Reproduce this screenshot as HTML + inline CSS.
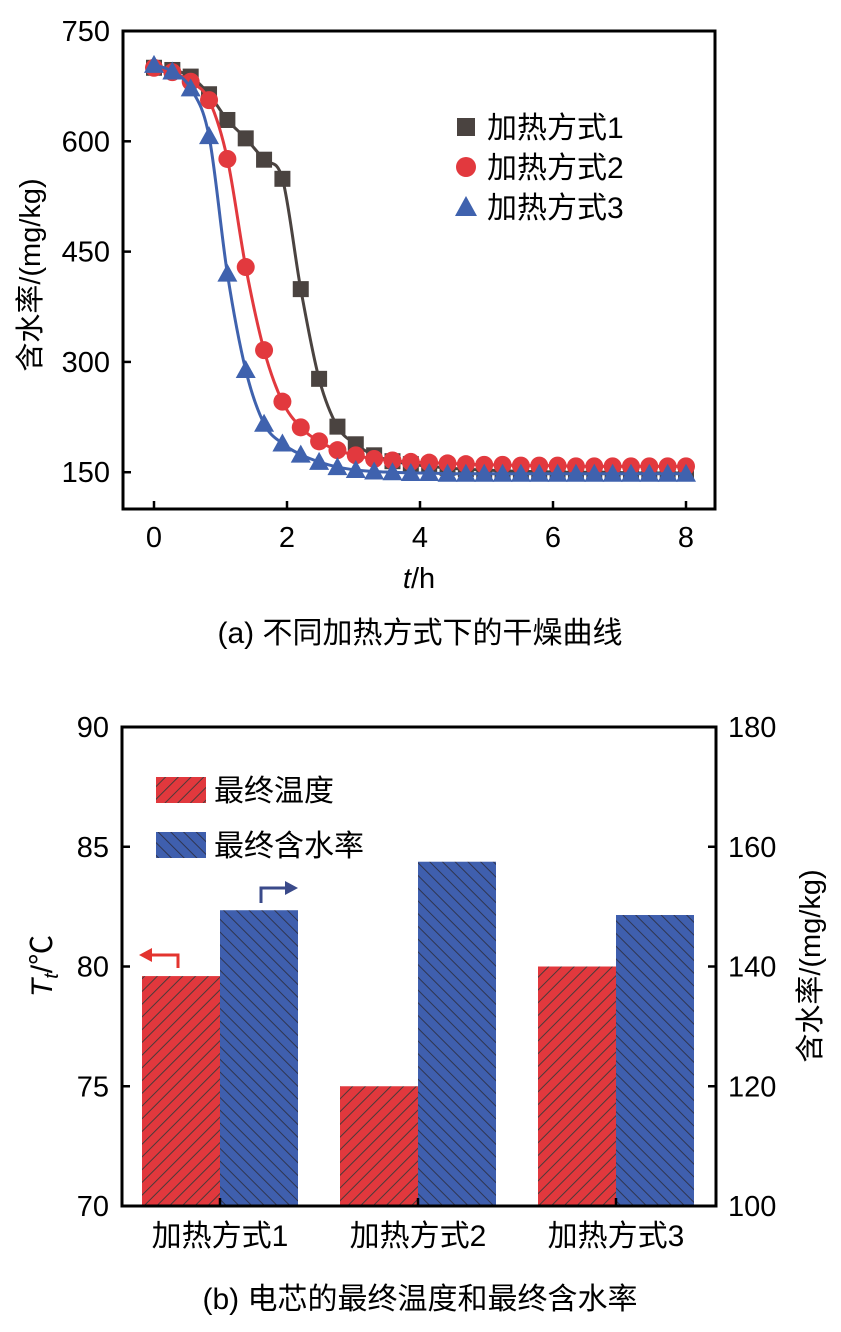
<!DOCTYPE html>
<html><head><meta charset="utf-8">
<style>
html,body{margin:0;padding:0;background:#fff;}
svg{display:block;font-family:"Liberation Sans","Noto Sans CJK SC",sans-serif;}
</style></head>
<body>
<svg id="fig" width="841" height="1332" viewBox="0 0 841 1332" xmlns="http://www.w3.org/2000/svg">
<defs>
<pattern id="hatchR" patternUnits="userSpaceOnUse" width="9" height="9" patternTransform="rotate(45)">
<rect width="9" height="9" fill="#e1383d"/><line x1="0" y1="0" x2="0" y2="9" stroke="#4a3a3a" stroke-width="2"/>
</pattern>
<pattern id="hatchB" patternUnits="userSpaceOnUse" width="9" height="9" patternTransform="rotate(-45)">
<rect width="9" height="9" fill="#3f5fae"/><line x1="0" y1="0" x2="0" y2="9" stroke="#2f3550" stroke-width="2"/>
</pattern>
</defs>
<g id="top"></g>
<g id="bot"></g>
</svg>
<script>
// ---- Chart (a) data ----
const tStep = 8/29;
const series1 = [700,697,688,664,629,604,575,549,399,277,212,188,173,165,161,158,156,154,153,152,151,151,150,150,150,150,149,149,149,149];
const series2 = [700,694,681,656,576,429,316,246,211,192,180,173,168,166,164,163,162,161,160,160,159,159,159,158,158,158,158,158,158,158];
const series3 = [704,695,672,607,420,289,216,189,174,164,157,153,151,150,149,149,148,148,148,148,148,148,148,148,148,148,148,148,148,148];
const yTicksA = [150,300,450,600,750];
const xTicksA = [0,2,4,6,8];
const legendA = ["加热方式1","加热方式2","加热方式3"];
// ---- Chart (b) data ----
const categories = ["加热方式1","加热方式2","加热方式3"];
const finalTemp = [79.6,75.0,80.0];
const finalMoisture = [149.4,157.5,148.6];
const yTicksL = [70,75,80,85,90];
const yTicksR = [100,120,140,160,180];

const NS="http://www.w3.org/2000/svg";
function mk(parent,tag,attrs,text){const e=document.createElementNS(NS,tag);for(const k in attrs)e.setAttribute(k,attrs[k]);if(text!==undefined)e.textContent=text;parent.appendChild(e);return e;}

// ===== Chart (a) =====
const A=document.getElementById('top');
const ax={l:123,r:715,t:31,b:509,y0:100,y1:750};
function xa(v){return 154+v*66.5;}
function ya(v){return ax.b-(v-ax.y0)*(ax.b-ax.t)/(ax.y1-ax.y0);}
let e;
e=mk(A,'rect',{x:ax.l,y:ax.t,width:ax.r-ax.l,height:ax.b-ax.t,fill:'none',stroke:'#000','stroke-width':3});

yTicksA.forEach(v=>{
 e=mk(A,'line',{x1:ax.l,x2:ax.l+8,y1:ya(v),y2:ya(v),stroke:'#000','stroke-width':2.5});
 
 e=mk(A,'text',{x:ax.l-13,y:ya(v)+10,'text-anchor':'end','font-size':29},v);
 
});
xTicksA.forEach(v=>{
 e=mk(A,'line',{x1:xa(v),x2:xa(v),y1:ax.b,y2:ax.b-8,stroke:'#000','stroke-width':2.5});
 
 e=mk(A,'text',{x:xa(v),y:ax.b+38,'text-anchor':'middle','font-size':29},v);
 
});
e=mk(A,'text',{x:0,y:0,'text-anchor':'middle','font-size':29,transform:'translate(40,275) rotate(-90)'},'含水率/(mg/kg)');

e=mk(A,'text',{x:419,y:588,'text-anchor':'middle','font-size':29});

mk(e,'tspan',{'font-style':'italic'},'t');mk(e,'tspan',{},'/h');
e=mk(A,'text',{x:420,y:643,'text-anchor':'middle','font-size':30},'(a) 不同加热方式下的干燥曲线');


function smoothPath(pts){
 let d='M'+pts[0][0]+','+pts[0][1];
 for(let i=0;i<pts.length-1;i++){
  const p0=pts[Math.max(0,i-1)],p1=pts[i],p2=pts[i+1],p3=pts[Math.min(pts.length-1,i+2)];
  const c1=[p1[0]+(p2[0]-p0[0])/6,p1[1]+(p2[1]-p0[1])/6];
  const c2=[p2[0]-(p3[0]-p1[0])/6,p2[1]-(p3[1]-p1[1])/6];
  d+=' C'+c1[0]+','+c1[1]+' '+c2[0]+','+c2[1]+' '+p2[0]+','+p2[1];
 }
 return d;
}
const colors=['#4a4340','#e2393e','#3f62ae'];
[series1,series2,series3].forEach((s,si)=>{
 const g=mk(A,'g',{});
 
 const pts=s.map((v,i)=>[xa(i*tStep),ya(v)]);
 e=mk(g,'path',{d:smoothPath(pts),fill:'none',stroke:colors[si],'stroke-width':3});
 
 pts.forEach(p=>{
  if(si===0){e=mk(g,'rect',{x:p[0]-8,y:p[1]-8,width:16,height:16,fill:colors[0]});}
  else if(si===1){e=mk(g,'circle',{cx:p[0],cy:p[1],r:9,fill:colors[1]});}
  else{e=mk(g,'polygon',{points:(p[0])+','+(p[1]-10)+' '+(p[0]-10)+','+(p[1]+8)+' '+(p[0]+10)+','+(p[1]+8),fill:colors[2]});}
  
 });
});
legendA.forEach((lab,i)=>{
 const ly=127+i*40, lx=466;
 if(i===0)e=mk(A,'rect',{x:lx-9,y:ly-9,width:18,height:18,fill:colors[0]});
 else if(i===1)e=mk(A,'circle',{cx:lx,cy:ly,r:10,fill:colors[1]});
 else e=mk(A,'polygon',{points:lx+','+(ly-11)+' '+(lx-11)+','+(ly+9)+' '+(lx+11)+','+(ly+9),fill:colors[2]});
 
 e=mk(A,'text',{x:487,y:ly+11,'font-size':30},lab);
 
});

// ===== Chart (b) =====
const B=document.getElementById('bot');
const bx={l:122,r:716,t:727,b:1206};
function yl(v){return bx.b-(v-70)*(bx.b-bx.t)/20;}
function yr(v){return bx.b-(v-100)*(bx.b-bx.t)/80;}
const centers=[220,418,616], bw=78;
finalTemp.forEach((v,i)=>{
 e=mk(B,'rect',{x:centers[i]-bw,y:yl(v),width:bw,height:bx.b-yl(v),fill:'url(#hatchR)'});
 
});
finalMoisture.forEach((v,i)=>{
 e=mk(B,'rect',{x:centers[i],y:yr(v),width:bw,height:bx.b-yr(v),fill:'url(#hatchB)'});
 
});
e=mk(B,'rect',{x:bx.l,y:bx.t,width:bx.r-bx.l,height:bx.b-bx.t,fill:'none',stroke:'#000','stroke-width':3});

yTicksL.forEach(v=>{
 e=mk(B,'line',{x1:bx.l,x2:bx.l+8,y1:yl(v),y2:yl(v),stroke:'#000','stroke-width':2.5});
 
 e=mk(B,'text',{x:bx.l-13,y:yl(v)+10,'text-anchor':'end','font-size':29},v);
 
});
yTicksR.forEach(v=>{
 e=mk(B,'line',{x1:bx.r,x2:bx.r-8,y1:yr(v),y2:yr(v),stroke:'#000','stroke-width':2.5});
 
 e=mk(B,'text',{x:bx.r+12,y:yr(v)+10,'text-anchor':'start','font-size':29},v);
 
});
categories.forEach((c,i)=>{
 e=mk(B,'line',{x1:centers[i],x2:centers[i],y1:bx.b,y2:bx.b-8,stroke:'#000','stroke-width':2.5});
 
 e=mk(B,'text',{x:centers[i],y:1246,'text-anchor':'middle','font-size':30},c);
 
});
e=mk(B,'text',{x:0,y:0,'text-anchor':'middle','font-size':30,transform:'translate(52,966) rotate(-90)'});

mk(e,'tspan',{'font-style':'italic'},'T');mk(e,'tspan',{'font-style':'italic','font-size':20,dy:6},'t');mk(e,'tspan',{dy:-6},'/℃');
e=mk(B,'text',{x:0,y:0,'text-anchor':'middle','font-size':29,transform:'translate(820,966) rotate(-90)'},'含水率/(mg/kg)');

e=mk(B,'text',{x:420,y:1309,'text-anchor':'middle','font-size':30},'(b) 电芯的最终温度和最终含水率');

// legend
e=mk(B,'rect',{x:156,y:777,width:50,height:26,fill:'url(#hatchR)'});

e=mk(B,'text',{x:214,y:801,'font-size':30},'最终温度');

e=mk(B,'rect',{x:156,y:832,width:50,height:26,fill:'url(#hatchB)'});

e=mk(B,'text',{x:214,y:856,'font-size':30},'最终含水率');

// axis arrows
e=mk(B,'path',{d:'M178,968 L178,955 L148,955',fill:'none',stroke:'#e3342f','stroke-width':3});

mk(B,'polygon',{points:'139,955 152,948 152,962',fill:'#e3342f'});
e=mk(B,'path',{d:'M261,903 L261,888 L288,888',fill:'none',stroke:'#3a4a8a','stroke-width':3});

mk(B,'polygon',{points:'298,888 285,881 285,895',fill:'#3a4a8a'});
</script>
</body></html>
